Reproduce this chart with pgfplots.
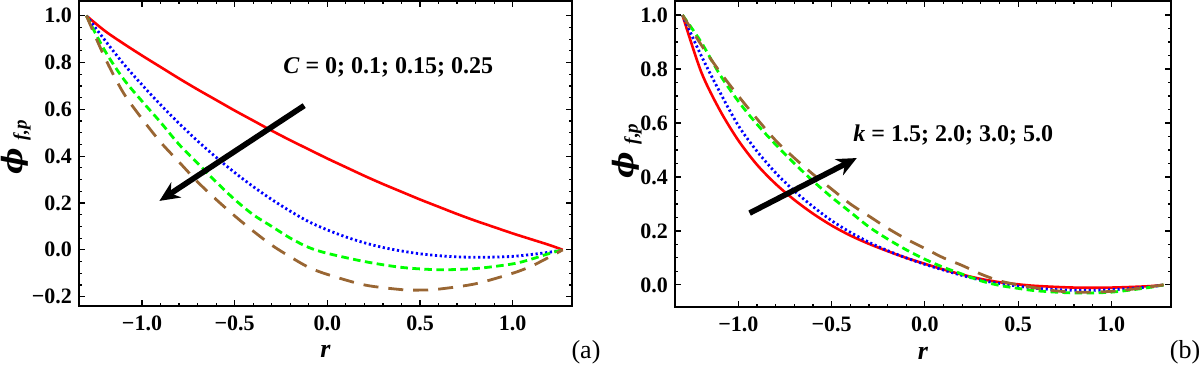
\documentclass[border=0pt]{standalone}
\usepackage{fontspec}
\setmainfont{Liberation Serif}
\newfontfamily\dvs{DejaVu Serif}
\usepackage{pgfplots}
\pgfplotsset{compat=1.18}
\usetikzlibrary{arrows.meta}
\definecolor{mbrown}{rgb}{0.6,0.4,0.2}
\definecolor{mgreen}{rgb}{0,1,0}
\newcommand{\philab}{\bfseries\itshape{\dvs\fontsize{14}{14}\selectfont ϕ}\raisebox{-0.45ex}{\fontsize{9.5}{9.5}\selectfont\, f,p}}
\pgfplotsset{
  mystyle/.style={
    scale only axis,
    xmin=-1.34, xmax=1.32,
    axis line style={line width=0.9pt},
    tick align=inside,
    major tick length=2.8pt,
    minor tick length=1.5pt,
    every tick/.style={black, line width=0.6pt},
    xtick={-1,-0.5,0,0.5,1},
    xticklabels={−1.0,−0.5,0.0,0.5,1.0},
    minor x tick num=4,
    minor y tick num=3,
    ticklabel style={font=\fontsize{11}{11}\selectfont\bfseries},
    xticklabel style={yshift=-1.5pt},
    xlabel={\textbf{\textit{r}}},
    xlabel style={font=\fontsize{13}{13}\selectfont, at={(axis description cs:0.5,-0.15)}, anchor=center},
    ylabel={\philab},
    ylabel style={anchor=center},
    clip=false,
  },
  c1/.style={red, line width=1.3pt, smooth},
  c2/.style={blue, line width=1.4pt, dash pattern=on 1.1pt off 1.3pt, smooth},
  c3/.style={mgreen, line width=1.4pt, dash pattern=on 3.8pt off 2.2pt, smooth},
  c4/.style={mbrown, line width=1.4pt, dash pattern=on 7.5pt off 5pt, smooth},
}
\begin{document}
\begin{tikzpicture}
\path[use as bounding box] (0,0) rectangle (600pt,182.5pt);
% ---------- (a) ----------
\begin{axis}[mystyle,
  at={(39.5pt,29.5pt)}, anchor=south west,
  width=246.5pt, height=152.5pt,
  ymin=-0.24, ymax=1.063,
  ytick={-0.2,0,0.2,0.4,0.6,0.8,1.0},
  yticklabels={−0.2,0.0,0.2,0.4,0.6,0.8,1.0},
  ylabel style={at={(axis description cs:-0.128,0.52)}},
]
\addplot[c1] coordinates {(-1.3,1.0) (-1.2,0.935) (-1.1,0.881) (-1.0,0.83) (-0.9,0.781) (-0.8,0.732) (-0.7,0.685) (-0.6,0.64) (-0.5,0.595) (-0.4,0.552) (-0.3,0.509) (-0.2,0.468) (-0.1,0.429) (0.0,0.39) (0.1,0.353) (0.2,0.316) (0.3,0.281) (0.4,0.248) (0.5,0.215) (0.6,0.184) (0.7,0.153) (0.8,0.124) (0.9,0.097) (1.0,0.07) (1.1,0.045) (1.2,0.02) (1.27,0.0)};
\addplot[c2] coordinates {(-1.3,1.0) (-1.2,0.895) (-1.1,0.795) (-1.0,0.705) (-0.9,0.62) (-0.8,0.54) (-0.7,0.465) (-0.6,0.395) (-0.5,0.33) (-0.4,0.27) (-0.3,0.215) (-0.2,0.165) (-0.1,0.12) (0.0,0.085) (0.1,0.055) (0.2,0.03) (0.3,0.01) (0.4,-0.005) (0.5,-0.017) (0.6,-0.025) (0.7,-0.03) (0.8,-0.032) (0.9,-0.031) (1.0,-0.028) (1.1,-0.02) (1.2,-0.01) (1.27,0.0)};
\addplot[c3] coordinates {(-1.3,1.0) (-1.2,0.85) (-1.1,0.73) (-1.0,0.635) (-0.9,0.545) (-0.8,0.45) (-0.7,0.37) (-0.6,0.29) (-0.5,0.215) (-0.4,0.15) (-0.3,0.10) (-0.2,0.05) (-0.1,0.01) (0.0,-0.015) (0.2,-0.05) (0.4,-0.075) (0.6,-0.085) (0.8,-0.08) (1.0,-0.06) (1.1,-0.04) (1.2,-0.015) (1.27,0.0)};
\addplot[c4] coordinates {(-1.3,1.0) (-1.2,0.82) (-1.1,0.67) (-1.0,0.56) (-0.9,0.46) (-0.8,0.375) (-0.7,0.29) (-0.6,0.215) (-0.5,0.145) (-0.4,0.08) (-0.3,0.02) (-0.2,-0.03) (-0.1,-0.075) (0.0,-0.105) (0.2,-0.15) (0.4,-0.17) (0.5,-0.172) (0.6,-0.168) (0.8,-0.145) (1.0,-0.1) (1.1,-0.07) (1.2,-0.03) (1.27,0.0)};
\draw[-{Stealth[length=10pt,width=9pt]}, line width=2.8pt] (axis cs:-0.125,0.616) -- (axis cs:-0.906,0.209);
\node[anchor=west, font=\fontsize{12}{12}\selectfont\bfseries, inner sep=0pt] at (axis cs:-0.24,0.78) {\textit{C} = 0; 0.1; 0.15; 0.25};
\end{axis}
% ---------- (b) ----------
\begin{axis}[mystyle,
  at={(337.5pt,29pt)}, anchor=south west,
  width=248pt, height=153pt,
  ymin=-0.082, ymax=1.052,
  ytick={0,0.2,0.4,0.6,0.8,1.0},
  yticklabels={0.0,0.2,0.4,0.6,0.8,1.0},
  ylabel style={at={(axis description cs:-0.097,0.51)}},
]
\addplot[c1] coordinates {(-1.3,1.0) (-1.2,0.79) (-1.1,0.648) (-1.0,0.535) (-0.9,0.445) (-0.8,0.374) (-0.7,0.315) (-0.6,0.264) (-0.5,0.22) (-0.4,0.183) (-0.3,0.152) (-0.2,0.125) (-0.1,0.1) (0.0,0.078) (0.1,0.057) (0.2,0.038) (0.3,0.022) (0.4,0.01) (0.5,0.002) (0.6,-0.004) (0.8,-0.01) (1.0,-0.01) (1.2,-0.005) (1.28,0.0)};
\addplot[c2] coordinates {(-1.3,1.0) (-1.2,0.85) (-1.1,0.715) (-1.0,0.59) (-0.9,0.495) (-0.8,0.415) (-0.7,0.348) (-0.6,0.29) (-0.5,0.238) (-0.4,0.195) (-0.3,0.158) (-0.2,0.127) (-0.1,0.1) (0.0,0.076) (0.1,0.055) (0.2,0.035) (0.3,0.018) (0.4,0.005) (0.6,-0.013) (0.8,-0.02) (1.0,-0.018) (1.2,-0.008) (1.28,0.0)};
\addplot[c3] coordinates {(-1.3,1.0) (-1.2,0.90) (-1.1,0.78) (-1.0,0.68) (-0.9,0.595) (-0.8,0.52) (-0.7,0.45) (-0.6,0.385) (-0.5,0.325) (-0.4,0.27) (-0.3,0.215) (-0.2,0.17) (-0.1,0.13) (0.0,0.095) (0.1,0.065) (0.2,0.04) (0.3,0.015) (0.4,-0.002) (0.5,-0.013) (0.6,-0.022) (0.8,-0.03) (1.0,-0.027) (1.2,-0.01) (1.28,0.0)};
\addplot[c4] coordinates {(-1.3,1.0) (-1.2,0.89) (-1.1,0.79) (-1.0,0.70) (-0.9,0.615) (-0.8,0.535) (-0.7,0.47) (-0.6,0.41) (-0.5,0.355) (-0.4,0.30) (-0.3,0.255) (-0.2,0.21) (-0.1,0.17) (0.0,0.135) (0.1,0.10) (0.2,0.072) (0.3,0.04) (0.4,0.015) (0.5,0.0) (0.6,-0.012) (0.7,-0.022) (0.8,-0.027) (0.9,-0.027) (1.0,-0.024) (1.1,-0.017) (1.2,-0.008) (1.28,0.0)};
\draw[-{Stealth[length=10pt,width=9pt]}, line width=2.8pt] (axis cs:-0.94,0.266) -- (axis cs:-0.365,0.47);
\node[anchor=west, font=\fontsize{12}{12}\selectfont\bfseries, inner sep=0pt] at (axis cs:-0.385,0.557) {\textit{k} = 1.5; 2.0; 3.0; 5.0};
\end{axis}
\node[font=\fontsize{13}{13}\selectfont] at (293pt,6.5pt) {(a)};
\node[font=\fontsize{13}{13}\selectfont] at (592.5pt,6.5pt) {(b)};
\end{tikzpicture}
\end{document}
